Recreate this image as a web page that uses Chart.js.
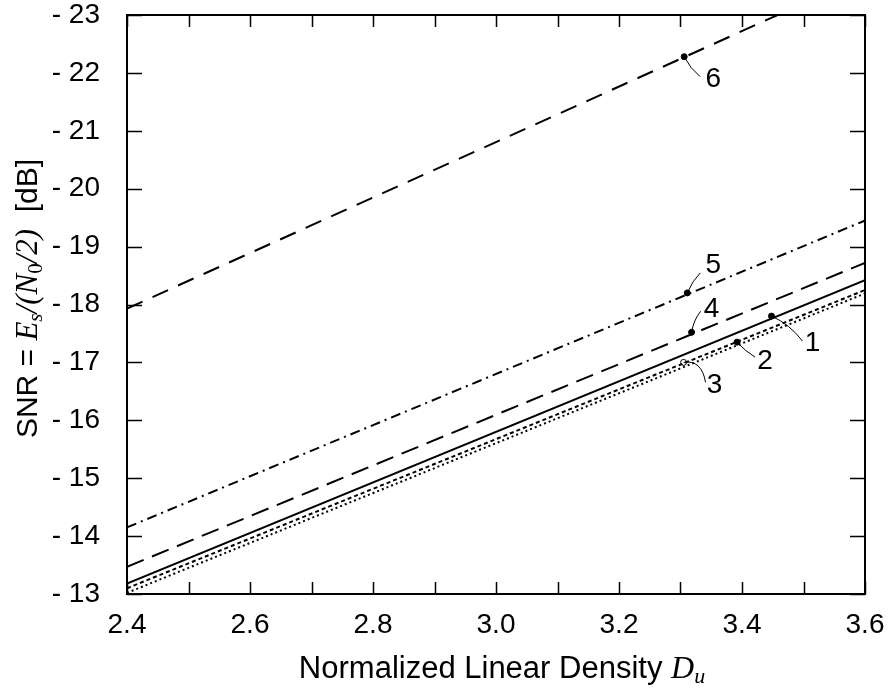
<!DOCTYPE html>
<html>
<head>
<meta charset="utf-8">
<script src="https://cdn.jsdelivr.net/npm/chart.js@4.4.0/dist/chart.umd.min.js"></script>
<style>
  html, body { margin: 0; padding: 0; background: #fff; }
</style>
</head>
<body>
<canvas id="grafico" width="892" height="690"></canvas>
<script>
// valores
const densidad = [2.4, 3.6];
const snrCurva1 = [13.18, 18.42];
const snrCurva2 = [13.10, 18.25];
const snrCurva3 = [13.02, 18.19];
const snrCurva4 = [13.47, 18.72];
const snrCurva5 = [14.15, 19.45];
const densidadCurva6 = [2.4, 3.458];
const snrCurva6 = [17.93, 23.0];

const etiquetas = ["1", "2", "3", "4", "5", "6"];
const marcaX = [3.448, 3.392, 3.305, 3.318, 3.311, 3.306];
const marcaY = [17.80, 17.35, 17.0, 17.52, 18.2, 22.28];

const SANS = "'Liberation Sans', Arial, sans-serif";
const SERIF = "'Liberation Serif', 'Times New Roman', serif";

function puntos(xs, ys) {
  return xs.map((x, i) => ({ x: x, y: ys[i] }));
}

function curva(xs, ys, dash) {
  return {
    data: puntos(xs, ys),
    borderColor: "#000",
    borderWidth: 2,
    borderDash: dash,
    pointRadius: 0,
    tension: 0,
    fill: false,
  };
}

// desplazamientos de las lineas guia y de los numeros (px)
const guias = [
  { fin: [31, 25], ctrl: [18, 8], txt: [41, 27] },
  { fin: [18, 15], ctrl: [8, 9], txt: [28, 19] },
  { fin: [22, 20], ctrl: [18, -3], txt: [31, 23] },
  { fin: [9, -21], ctrl: [2, -12], txt: [20, -23] },
  { fin: [13, -20], ctrl: [5, -12], txt: [26, -28] },
  { fin: [16, 20], ctrl: [6, 12], txt: [29, 23] },
];

function textoRico(ctx, partes, cx, cy) {
  let total = 0;
  partes.forEach((p) => {
    ctx.font = p.font;
    total += ctx.measureText(p.t).width;
  });
  let x = cx - total / 2;
  ctx.textAlign = "left";
  ctx.textBaseline = "alphabetic";
  partes.forEach((p) => {
    ctx.font = p.font;
    ctx.fillText(p.t, x, cy + (p.dy || 0));
    x += ctx.measureText(p.t).width;
  });
}

function sinRelleno(s) {
  s.paddingTop = 0;
  s.paddingBottom = 0;
  s.paddingLeft = 0;
  s.paddingRight = 0;
}

const marcoPlugin = {
  id: "marco",
  afterDraw(chart) {
    const ctx = chart.ctx;
    const area = chart.chartArea;
    const sx = chart.scales.x;
    const sy = chart.scales.y;
    ctx.save();
    ctx.strokeStyle = "#000";
    ctx.fillStyle = "#000";

    // marco
    ctx.lineWidth = 2;
    ctx.strokeRect(area.left, area.top, area.right - area.left, area.bottom - area.top);

    // marcas hacia dentro
    ctx.lineWidth = 1.5;
    ctx.beginPath();
    sx.ticks.forEach((t) => {
      const px = Math.round(sx.getPixelForValue(t.value)) + 0.5;
      ctx.moveTo(px, area.bottom);
      ctx.lineTo(px, area.bottom - 12);
      ctx.moveTo(px, area.top);
      ctx.lineTo(px, area.top + 12);
    });
    sy.ticks.forEach((t) => {
      const py = Math.round(sy.getPixelForValue(t.value)) + 0.5;
      ctx.moveTo(area.left, py);
      ctx.lineTo(area.left + 15, py);
      ctx.moveTo(area.right, py);
      ctx.lineTo(area.right - 15, py);
    });
    ctx.stroke();

    // lineas guia y numeros
    ctx.lineWidth = 1;
    ctx.font = "28px " + SANS;
    ctx.textAlign = "center";
    ctx.textBaseline = "middle";
    etiquetas.forEach((et, i) => {
      const mx = sx.getPixelForValue(marcaX[i]);
      const my = sy.getPixelForValue(marcaY[i]);
      const g = guias[i];
      ctx.beginPath();
      ctx.moveTo(mx, my);
      ctx.quadraticCurveTo(mx + g.ctrl[0], my + g.ctrl[1], mx + g.fin[0], my + g.fin[1]);
      ctx.stroke();
      ctx.fillText(et, mx + g.txt[0], my + g.txt[1]);
    });

    // titulo eje x
    const fx = "31px " + SANS;
    textoRico(ctx, [
      { t: "Normalized Linear Density ", font: fx },
      { t: "D", font: "italic 32px " + SERIF },
      { t: "u", font: "italic 22px " + SERIF, dy: 5 },
    ], 502, 678);

    // titulo eje y
    ctx.translate(37, (area.top + area.bottom) / 2 - 6);
    ctx.rotate(-Math.PI / 2);
    const fy = "30px " + SANS;
    const fi = "italic 31px " + SERIF;
    textoRico(ctx, [
      { t: "SNR = ", font: fy },
      { t: "E", font: fi },
      { t: "s", font: "italic 21px " + SERIF, dy: 5 },
      { t: "/(", font: fi },
      { t: "N", font: fi },
      { t: "0", font: "21px " + SERIF, dy: 5 },
      { t: "/2)", font: fi },
      { t: "  [dB]", font: fy },
    ], 0, 0);
    ctx.restore();
  },
};

const datos = {
  datasets: [
    curva(densidad, snrCurva1, []),
    curva(densidad, snrCurva2, [4, 3]),
    curva(densidad, snrCurva3, [2, 3]),
    curva(densidad, snrCurva4, [18, 9]),
    curva(densidad, snrCurva5, [10, 5, 2, 5]),
    curva(densidadCurva6, snrCurva6, [17, 11]),
    {
      type: "scatter",
      data: puntos(marcaX, marcaY),
      pointRadius: 3,
      pointBackgroundColor: ["#000", "#000", "#fff", "#000", "#000", "#000"],
      pointBorderColor: "#000",
      pointBorderWidth: 1,
      showLine: false,
    },
  ],
};

const opciones = {
  responsive: false,
  animation: false,
  devicePixelRatio: 1,
  layout: { padding: { top: 15, right: 27, left: 0, bottom: 0 } },
  plugins: { legend: { display: false }, tooltip: { enabled: false } },
  scales: {
    x: {
      type: "linear",
      min: 2.4,
      max: 3.6,
      grid: { display: false },
      border: { display: false },
      afterFit: (s) => { s.height = 96; sinRelleno(s); },
      ticks: {
        stepSize: 0.1,
        autoSkip: false,
        maxRotation: 0,
        padding: 6,
        color: "#000",
        font: { family: SANS, size: 28 },
        callback: (v) => {
          const d = Math.round(v * 10);
          return d % 2 === 0 ? (d / 10).toFixed(1) : "";
        },
      },
    },
    y: {
      min: 13,
      max: 23,
      grid: { display: false },
      border: { display: false },
      afterFit: (s) => { s.width = 127; sinRelleno(s); },
      ticks: {
        stepSize: 1,
        padding: 19,
        color: "#000",
        font: { family: SANS, size: 28 },
        callback: (v) => "- " + v,
      },
    },
  },
};

const ctx = document.getElementById("grafico").getContext("2d");
const miGrafico = new Chart(ctx, {
  type: "line",
  data: datos,
  options: opciones,
  plugins: [marcoPlugin],
});
</script>
</body>
</html>
